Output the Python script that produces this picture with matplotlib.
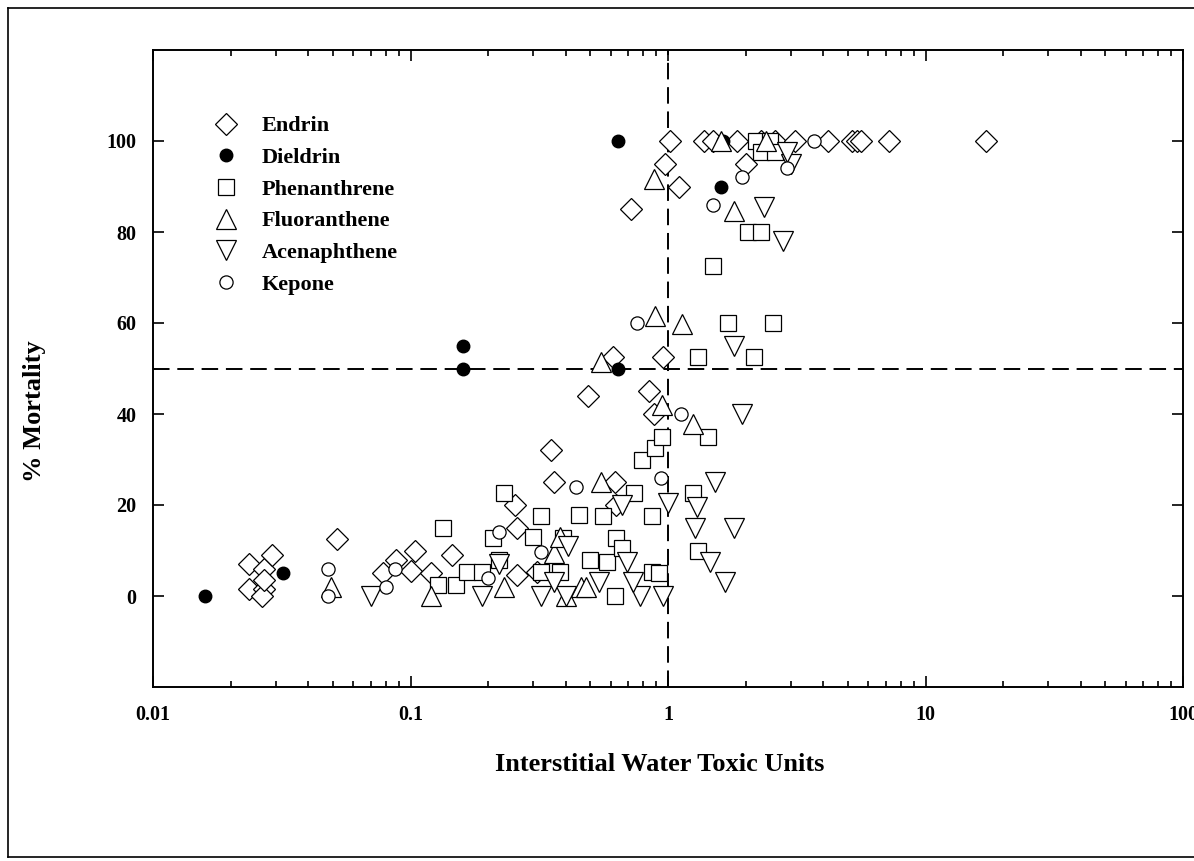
import numpy as np
import matplotlib
matplotlib.use('Agg')
import matplotlib.pyplot as plt
from matplotlib.lines import Line2D
from matplotlib.ticker import LogLocator, NullFormatter

# data
endrin_x = [0.0235, 0.0235, 0.027, 0.027, 0.0265, 0.029, 0.027, 0.052, 0.078, 0.088,
            0.1, 0.104, 0.145, 0.12, 0.26, 0.255, 0.26, 0.31, 0.35, 0.36,
            0.49, 0.62, 0.63, 0.61, 0.84, 0.88, 0.96, 0.72, 0.97, 1.1, 2.0,
            1.02, 1.38, 1.5, 1.85, 2.3, 2.6, 3.1, 4.2, 5.2, 5.4, 5.6, 7.2, 17.2]
endrin_y = [7, 1.5, 6, 1.5, 0, 9, 3.5, 12.5, 5, 8,
            5.5, 10, 9, 5, 4.6, 20, 15, 5.3, 32, 25,
            44, 25, 20, 52.5, 45, 40, 52.5, 85, 95, 90, 95,
            100, 100, 100, 100, 100, 100, 100, 100, 100, 100, 100, 100, 100]

dieldrin_x = [0.0159, 0.032, 0.16, 0.16, 0.64, 0.64, 1.63, 1.6]
dieldrin_y = [0, 5, 55, 50, 50, 100, 100, 90]

phen_x = [0.128, 0.15, 0.134, 0.165, 0.19, 0.22, 0.21, 0.23, 0.3, 0.32,
          0.32, 0.38, 0.39, 0.45, 0.5, 0.56, 0.58, 0.62, 0.63, 0.66,
          0.74, 0.79, 0.87, 0.87, 0.89, 0.95, 0.92, 1.25, 1.31, 1.43,
          1.31, 2.15, 1.71, 2.55, 1.5, 2.05, 2.3, 2.2, 2.5, 2.3, 2.6]
phen_y = [2.4, 2.4, 15, 5.3, 5.3, 8, 12.8, 22.7, 13, 17.5,
          5.3, 5.3, 12.8, 17.8, 8, 17.5, 7.5, 0, 12.8, 10.5,
          22.7, 30, 17.5, 5.3, 32.5, 35, 5, 22.7, 10, 35,
          52.5, 52.5, 60, 60, 72.5, 80, 80, 100, 100, 97.5, 97.5]

fluor_x = [0.049, 0.12, 0.23, 0.36, 0.4, 0.46, 0.48, 0.38, 0.55, 0.55,
           0.95, 1.25, 0.89, 1.13, 0.88, 1.8, 1.6, 2.4]
fluor_y = [2, 0, 2, 9.5, 0, 2, 2, 13, 25, 51.5,
           42, 37.7, 61.5, 59.7, 91.6, 84.6, 100, 100]

acen_x = [0.07, 0.19, 0.32, 0.4, 0.78, 0.96, 0.36, 0.54, 0.73, 0.69,
          0.41, 0.22, 0.66, 1.0, 1.3, 1.52, 1.27, 1.8, 1.45, 1.66,
          1.93, 1.8, 2.35, 2.8, 3.0, 2.9]
acen_y = [0, 0, 0, 0, 0, 0, 3, 3, 3, 7.5,
          11, 7, 20, 20.5, 19.6, 25, 15, 15, 7.5, 3,
          40, 55, 85.5, 78, 95, 97.5]

kepone_x = [0.048, 0.048, 0.08, 0.087, 0.2, 0.22, 0.32, 0.44, 0.94, 1.12,
            0.76, 1.5, 1.93, 2.9, 3.7]
kepone_y = [6, 0, 2, 6, 4, 14, 9.7, 24, 26, 40,
            60, 86, 92, 94, 100]

plt.rcParams['font.family'] = ['Liberation Serif', 'DejaVu Serif']
plt.rcParams['font.weight'] = 'bold'

fig = plt.figure(figsize=(11.94, 8.61), dpi=100)
ax = fig.add_axes([153/1194, 1-687/861, 1030/1194, 637/861])

# outer frame of the page
fig.add_artist(Line2D([8/1194, 8/1194], [1-8/861, 1-857/861], color='black', lw=1.2))
fig.add_artist(Line2D([8/1194, 1], [1-8/861, 1-8/861], color='black', lw=1.2))
fig.add_artist(Line2D([8/1194, 1], [1-857/861, 1-857/861], color='black', lw=1.2))

lw = 0.9
kw = dict(linestyle='none', markerfacecolor='white', markeredgecolor='black', markeredgewidth=lw)
ax.plot(endrin_x, endrin_y, marker='D', markersize=11, label='Endrin', **kw)
ax.plot(dieldrin_x, dieldrin_y, marker='o', markersize=9, linestyle='none',
        color='black', label='Dieldrin')
ax.plot(phen_x, phen_y, marker='s', markersize=12, label='Phenanthrene', **kw)
ax.plot(fluor_x, fluor_y, marker='^', markersize=14, label='Fluoranthene', **kw)
ax.plot(acen_x, acen_y, marker='v', markersize=14, label='Acenaphthene', **kw)
ax.plot(kepone_x, kepone_y, marker='o', markersize=9.5, label='Kepone', **kw)

ax.axhline(50, color='black', lw=1.4, linestyle=(0, (8.5, 4)), zorder=0)
ax.axvline(1, color='black', lw=1.4, linestyle=(0, (8.5, 4)), zorder=0)

ax.set_xscale('log')
ax.set_xlim(0.01, 100)
ax.set_ylim(-20, 120)
ax.set_xticks([0.01, 0.1, 1, 10, 100])
ax.set_xticklabels(['0.01', '0.1', '1', '10', '100'])
ax.xaxis.set_minor_locator(LogLocator(base=10, subs=np.arange(2, 10)))
ax.xaxis.set_minor_formatter(NullFormatter())
ax.set_yticks([0, 20, 40, 60, 80, 100])
ax.tick_params(which='both', direction='in', top=True, right=True, labelsize=14.5, width=1.2)
ax.tick_params(which='major', length=8, pad=13)
ax.tick_params(axis='y', which='major', pad=12)
ax.tick_params(which='minor', length=4)
for s in ax.spines.values():
    s.set_linewidth(1.4)

ax.set_xlabel('Interstitial Water Toxic Units', fontsize=19, fontweight='bold')
ax.xaxis.set_label_coords((660-153)/1030, (687-753)/637)
ax.set_ylabel('% Mortality', fontsize=19, fontweight='bold')
ax.yaxis.set_label_coords((46-153)/1030, (687-411)/637)

ax.legend(loc='upper left', bbox_to_anchor=(49/1030, 1-57/637), frameon=False,
          fontsize=16, labelspacing=0.5, handletextpad=0.9, borderaxespad=0,
          handlelength=1.4)

fig.savefig('out.png', dpi=100)
